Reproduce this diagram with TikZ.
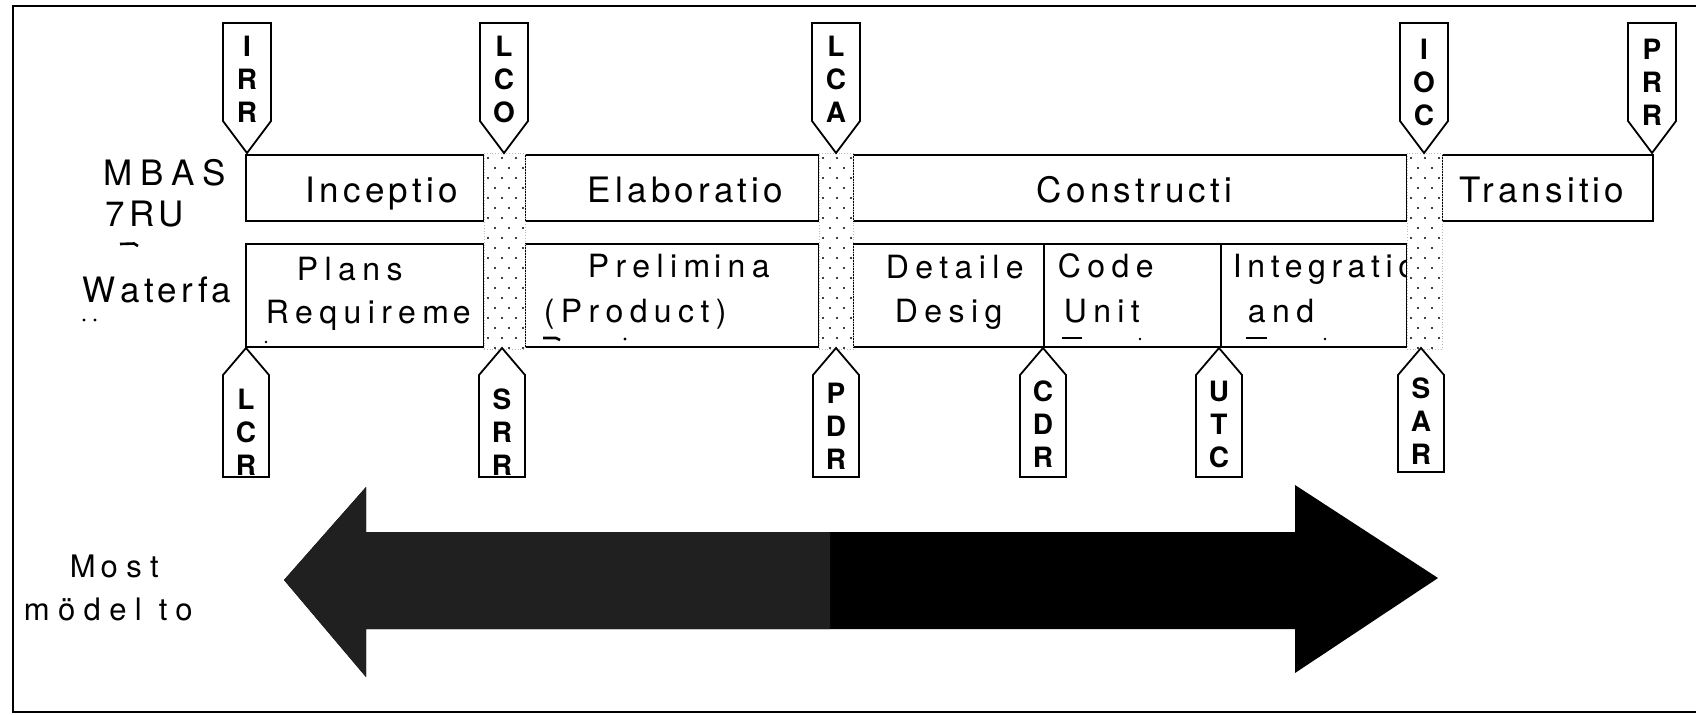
\documentclass[tikz,border=0pt]{standalone}
\usepackage{fontspec}
\setmainfont{TeX Gyre Heros}
\newfontfamily\lblfont[LetterSpace=20]{TeX Gyre Heros}
\newfontfamily\narrowlblfont[LetterSpace=17.5]{TeX Gyre Heros}
\newfontfamily\toplblfont[LetterSpace=12]{TeX Gyre Heros}
\newfontfamily\widelblfont[LetterSpace=22]{TeX Gyre Heros}
\newfontfamily\widerlblfont[LetterSpace=27]{TeX Gyre Heros}
\newfontfamily\flagfont{TeX Gyre Heros}
\usetikzlibrary{fit}
\definecolor{arrowgray}{RGB}{32,32,32}
\begin{document}
\begin{tikzpicture}[x=0.5pt,y=-0.5pt,line width=0.9pt,
  phasebox/.style={draw=black,line width=0.9pt,inner sep=0pt},
  colbox/.style={fill=white,draw=gray!55,densely dotted,line width=0.4pt,inner sep=0pt},
  flagshape/.style={draw=black,fill=white,line width=0.9pt,line join=miter},
  flagtxt/.style={inner sep=0pt,align=center,font=\flagfont\bfseries\fontsize{14}{16.5}\selectfont},
  toptxt/.style={inner sep=0pt,anchor=base west,font=\toplblfont\fontsize{17.5}{22}\selectfont},
  rowtxt/.style={inner sep=0pt,anchor=base west,font=\lblfont\fontsize{16}{22.5}\selectfont},
  sidetxt/.style={inner sep=0pt,anchor=base west,font=\toplblfont\fontsize{17.5}{20}\selectfont},
  bottxt/.style={inner sep=0pt,anchor=base west,font=\widerlblfont\fontsize{15.5}{20}\selectfont},
  frag/.style={line width=1.3pt,line cap=butt}]
\useasboundingbox (0,0) rectangle (1696,714);

% outer frame
\draw[line width=0.9pt] (1700,6) -- (13,6) -- (13,712) -- (1700,712);

% MBASE/RUP row
\node[phasebox,fit={(246,155) (484,221)}] (incep) {};
\node[phasebox,fit={(525,155) (819,221)}] (elab) {};
\node[phasebox,fit={(853,155) (1407,221)}] (constr) {};
\node[phasebox,fit={(1442,155) (1653,221)}] (trans) {};
\node[toptxt] (tincep) at (305,202) {Inceptio};
\node[toptxt] (telab) at (587,202) {Elaboratio};
\node[toptxt] (tconstr) at (1036,202) {Constructi};
\node[toptxt] (ttrans) at (1459,202) {Transitio};

% Waterfall row
\node[phasebox,fit={(246,244) (484,347)}] (plans) {};
\node[phasebox,fit={(525,244) (819,347)}] (prelim) {};
\node[phasebox,fit={(853,244) (1044,347)}] (detail) {};
\node[phasebox,fit={(1044,244) (1221,347)}] (code) {};
\node[phasebox,fit={(1221,244) (1407,347)}] (integ) {};
\node[rowtxt] (tplans1) at (296,280) {Plans};
\node[rowtxt] (tplans2) at (265,323) {Requirem\kern2pt e};
\node[rowtxt] (tprel1) at (587,277) {Prelim\kern2pt ina};
\node[rowtxt] (tprel2) at (543,322) {(Product)};
\node[rowtxt] (tdet1) at (885,278) {Detaile};
\node[rowtxt] (tdet2) at (894,322) {Desig};
\node[rowtxt] (tcode1) at (1057,277) {Code};
\node[rowtxt] (tcode2) at (1063,322) {Unit};
\node[rowtxt,font=\narrowlblfont\fontsize{16}{22.5}\selectfont] (tint1) at (1232,277) {Integratio};
\node[rowtxt] (tint2) at (1247,322) {and};

% clipped third-line fragments
\fill (266,342) circle[radius=0.7pt];
\draw[frag] (543,338) -- (556,338) -- (560,340);
\fill (625,339) circle[radius=0.8pt];
\draw[frag] (1062,338) -- (1082,338);
\fill (1140,339) circle[radius=0.7pt];
\draw[frag] (1246,338) -- (1267,338);
\fill (1325,339) circle[radius=0.7pt];

% dotted milestone columns
\newcommand\dotcol[3]{%
  \node[colbox,fit={(#2,153) (#3,349)}] (#1) {};
  \begin{scope}
    \clip (#2+1,154) rectangle (#3-1,348);
    \foreach \j in {0,...,19}{
      \foreach \i in {0,...,3}{
        \pgfmathsetmacro\dx{#2+4+14*\i+7*mod(\j,2)}
        \pgfmathsetmacro\dy{158+10*\j}
        \fill (\dx,\dy) circle[radius=0.6pt];
      }
    }
  \end{scope}}
\dotcol{colLCO}{484}{525}
\dotcol{colLCA}{819}{853}
\dotcol{colIOC}{1407}{1442}

% milestone flags
\newcommand\topflag[4]{%
  \draw[flagshape] (#2-24,23) -- (#2+24,23) -- (#2+24,121) -- (#2,153) -- (#2-24,121) -- cycle;
  \node[flagtxt,anchor=north] (#1) at (#2,#3) {#4};}
\newcommand\botflag[5]{%
  \draw[flagshape] (#2,348) -- (#2+23,375) -- (#2+23,#4) -- (#2-23,#4) -- (#2-23,375) -- cycle;
  \node[flagtxt,anchor=north] (#1) at (#2,#3) {#5};}
\topflag{irr}{247}{35}{I\\R\\R}
\topflag{lco}{504}{35}{L\\C\\O}
\topflag{lca}{836}{35}{L\\C\\A}
\topflag{ioc}{1424}{38}{I\\O\\C}
\topflag{prr}{1652}{38}{P\\R\\R}
\botflag{lcr}{246}{388}{477}{L\\C\\R}
\botflag{srr}{502}{388}{477}{S\\R\\R}
\botflag{pdr}{836}{382}{477}{P\\D\\R}
\botflag{cdr}{1043}{380}{477}{C\\D\\R}
\botflag{utc}{1219}{380}{477}{U\\T\\C}
\botflag{sar}{1421}{377}{472}{S\\A\\R}

% side labels
\node[sidetxt,font=\widelblfont\fontsize{17.5}{20}\selectfont] (mbas) at (103,185) {MBAS};
\node[sidetxt] (rup) at (105,226) {7RU};
\draw[frag] (120,244) -- (134,243.5) -- (138,246);
\node[sidetxt] (water) at (82,302) {W\kern2.5pt aterfa};
\fill (84,320) circle[radius=0.8pt];
\fill (95,320) circle[radius=0.8pt];
\node[bottxt] (most) at (69,577) {M\kern2.5pt ost};
\node[bottxt] (model) at (23,620) {mödel to};

% double arrow
\newcommand\arrowpath{(284,580) -- (366,487) -- (366,532) -- (1295,532) -- (1295,485) -- (1438,578) -- (1295,673) -- (1295,629) -- (366,629) -- (366,677) -- cycle}
\fill[black] \arrowpath;
\begin{scope}
  \clip (0,0) rectangle (830,714);
  \fill[arrowgray] \arrowpath;
\end{scope}
\end{tikzpicture}
\end{document}
